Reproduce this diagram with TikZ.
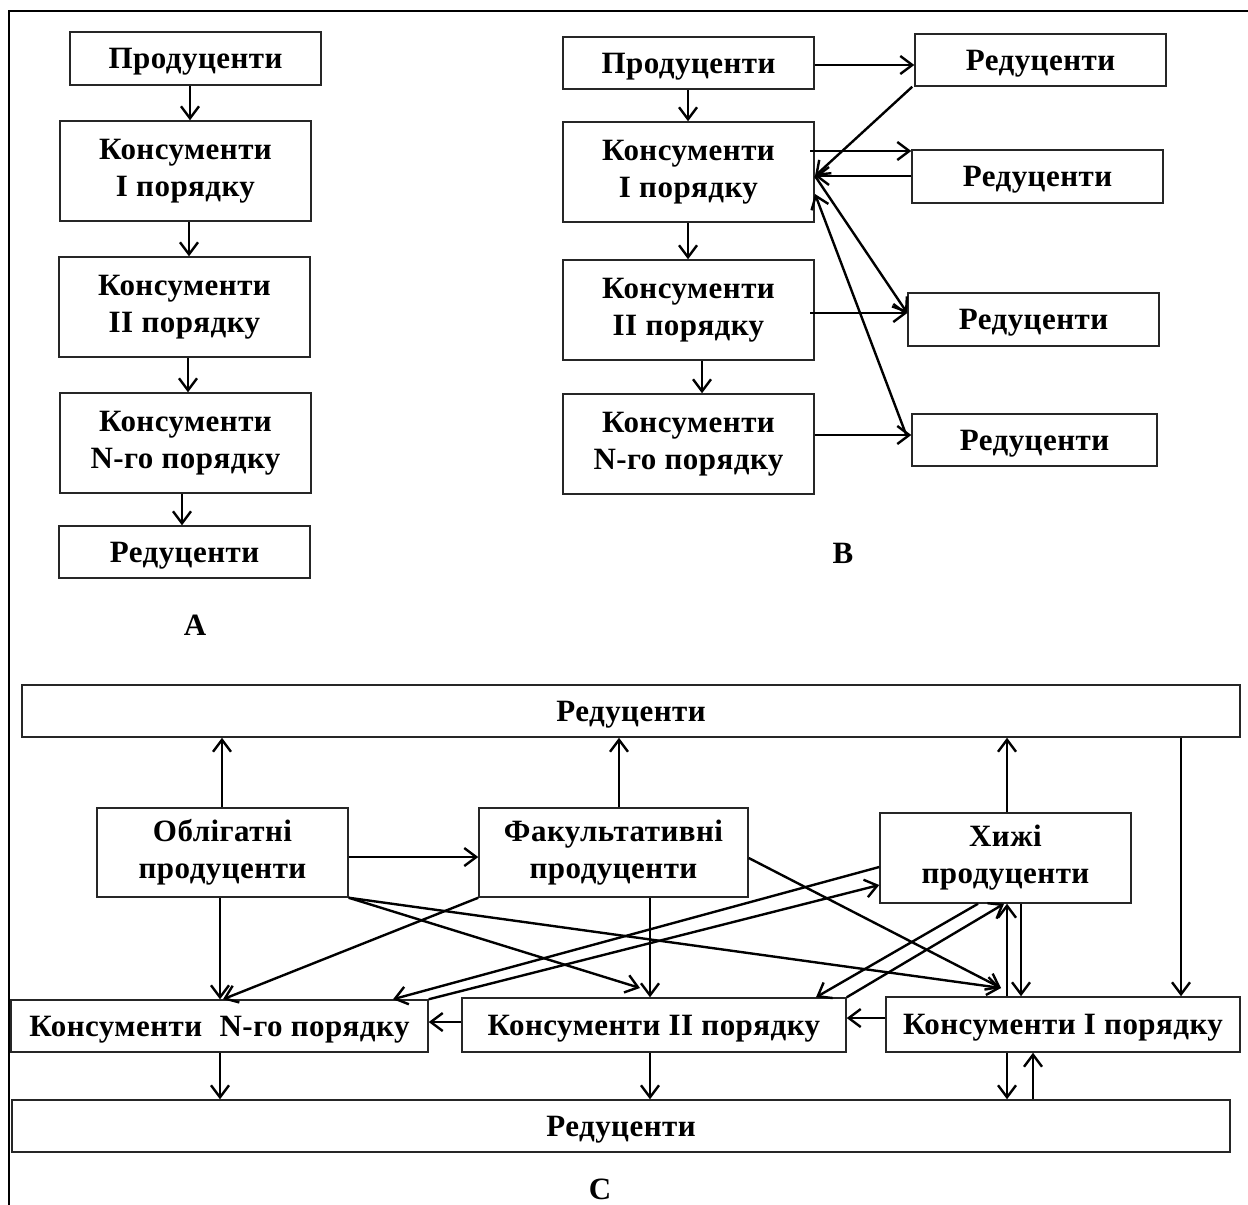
\documentclass[tikz,border=0pt]{standalone}
\usepackage{fontspec}
\setmainfont{Liberation Serif}[LetterSpace=1.5]
\usetikzlibrary{arrows.meta}
\begin{document}
\begin{tikzpicture}[x=1pt,y=-1pt,
  box/.style={draw=black!85, line width=1.5pt, inner sep=0pt, align=center, fill=white,
    font=\bfseries\fontsize{31}{37}\selectfont},
  oneline/.style={text depth=0pt},
  sz/.style 2 args={minimum width=#1pt, minimum height=#2pt},
  arr/.style={line width=2.4pt, -{Straight Barb[length=12pt,width=18pt,line width=2.4pt]}},
  lab/.style={font=\bfseries\fontsize{31}{37}\selectfont, text depth=0pt},
  frame/.style={line width=2.4pt}]
\useasboundingbox (0,0) rectangle (1248,1205);
% outer frame
\coordinate (f0) at (9,1205);
\coordinate (f1) at (9,11);
\coordinate (f2) at (1248,11);
\draw[frame] (f0) -- (f1) -- (f2);

% ---------- A ----------
\node[box, oneline, sz={251}{53}] (aP) at (195.5,58.5) {Продуценти};
\node[box, sz={251}{100}] (aK1) at (185.5,171) {Консументи\\I порядку};
\node[box, sz={251}{100}] (aK2) at (184.5,307) {Консументи\\II порядку};
\node[box, sz={251}{100}] (aKN) at (185.5,443) {Консументи\\N-го порядку};
\node[box, oneline, sz={251}{52}] (aR) at (184.5,552) {Редуценти};
\node[lab] (la) at (195,625) {А};
\coordinate (xa1) at (190,0);
\coordinate (xa2) at (189,0);
\coordinate (xa3) at (188,0);
\coordinate (xa4) at (182,0);
\draw[arr] (aP.south -| xa1) -- (aK1.north -| xa1);
\draw[arr] (aK1.south -| xa2) -- (aK2.north -| xa2);
\draw[arr] (aK2.south -| xa3) -- (aKN.north -| xa3);
\draw[arr] (aKN.south -| xa4) -- (aR.north -| xa4);

% ---------- B ----------
\node[box, oneline, sz={251}{52}] (bP) at (688.5,63) {Продуценти};
\node[box, sz={251}{100}] (bK1) at (688.5,172) {Консументи\\I порядку};
\node[box, sz={251}{100}] (bK2) at (688.5,310) {Консументи\\II порядку};
\node[box, sz={251}{100}] (bKN) at (688.5,444) {Консументи\\N-го порядку};
\node[box, oneline, sz={251}{52}] (bR1) at (1040.5,60) {Редуценти};
\node[box, oneline, sz={251}{53}] (bR2) at (1037.5,176.5) {Редуценти};
\node[box, oneline, sz={251}{53}] (bR3) at (1033.5,319.5) {Редуценти};
\node[box, oneline, sz={245}{52}] (bR4) at (1034.5,440) {Редуценти};
\node[lab] (lb) at (843,553) {В};
\coordinate (yb1) at (0,65);
\coordinate (xb1) at (688,0);
\coordinate (xb2) at (702,0);
\coordinate (yb2) at (0,151);
\coordinate (k1a) at (815,176);
\coordinate (k1b) at (815,194);
\coordinate (yb3) at (0,313);
\coordinate (yb4) at (0,435);
\coordinate (xb3) at (810,0);
\draw[arr] (bP.east |- yb1) -- (bR1.west |- yb1);
\draw[arr] (bP.south -| xb1) -- (bK1.north -| xb1);
\draw[arr] (bK1.south -| xb1) -- (bK2.north -| xb1);
\draw[arr] (bK2.south -| xb2) -- (bKN.north -| xb2);
\draw[arr] ([xshift=-2pt]bR1.south west) -- (k1a);
\draw[arr] (xb3 |- yb2) -- (bR2.west |- yb2);
\draw[arr] (bR2.west |- k1a) -- (k1a);
\draw[arr] (k1a) -- (bR3.west |- yb3);
\draw[arr] (xb3 |- yb3) -- (bR3.west |- yb3);
\draw[arr] ([xshift=-5pt]bR4.west |- yb4) -- (k1b);
\draw[arr] (bKN.east |- yb4) -- (bR4.west |- yb4);

% ---------- C ----------
\node[box, oneline, sz={1218}{52}] (cRt) at (631,711) {Редуценти};
\node[box, sz={251}{89}] (cObl) at (222.5,852.5) {Облігатні\\продуценти};
\node[box, sz={269}{89}] (cFac) at (613.5,852.5) {Факультативні\\продуценти};
\node[box, sz={251}{90}] (cKh) at (1005.5,858) {Хижі\\продуценти};
\node[box, oneline, sz={417}{52}] (cKN) at (219.5,1026) {Консументи\hspace{0.3em} N-го порядку};
\node[box, oneline, sz={384}{54}] (cK2) at (654,1025) {Консументи II порядку};
\node[box, oneline, sz={354}{55}] (cK1) at (1063,1024.5) {Консументи I порядку};
\node[box, oneline, sz={1218}{52}] (cRb) at (621,1126) {Редуценти};
\node[lab] (lc) at (600,1189) {С};

\coordinate (xc1) at (222,0);
\coordinate (xc2) at (619,0);
\coordinate (xc3) at (1007,0);
\coordinate (xc4) at (1181,0);
\coordinate (xc5) at (220,0);
\coordinate (xc6) at (650,0);
\coordinate (xc7) at (1021,0);
\coordinate (xc8) at (1033,0);
\coordinate (xc9) at (223,0);
\coordinate (xc10) at (393,0);
\coordinate (xc11) at (978,0);
\coordinate (xc12) at (816,0);
\coordinate (xc13) at (1004,0);
\coordinate (yc1) at (0,857);
\coordinate (yc2) at (0,867);
\coordinate (yc3) at (0,885);
\coordinate (yc4) at (0,858);
\coordinate (yc5) at (0,1018);
\coordinate (yc6) at (0,1022);
\coordinate (k1in) at (1001,988);
\coordinate (k2in) at (640,988);

\draw[arr] (cObl.north -| xc1) -- (cRt.south -| xc1);
\draw[arr] (cFac.north -| xc2) -- (cRt.south -| xc2);
\draw[arr] (cKh.north -| xc3) -- (cRt.south -| xc3);
\draw[arr] (cRt.south -| xc4) -- (cK1.north -| xc4);
\draw[arr] (cObl.east |- yc1) -- (cFac.west |- yc1);
\draw[arr] (cObl.south -| xc5) -- (cKN.north -| xc5);
\draw[arr] (cFac.south west) -- (cKN.north -| xc9);
\draw[arr] (cKh.west |- yc2) -- (cKN.north -| xc10);
\draw[arr] (cKN.north east) -- (cKh.west |- yc3);
\draw[arr] (cFac.east |- yc4) -- (k1in);
\draw[arr] (cObl.south east) -- (k1in);
\draw[arr] (cObl.south east) -- (k2in);
\draw[arr] (cFac.south -| xc6) -- (cK2.north -| xc6);
\draw[arr] (cKh.south -| xc11) -- (cK2.north -| xc12);
\draw[arr] (cK2.north east) -- (cKh.south -| xc13);
\draw[arr] (cK1.north -| xc3) -- (cKh.south -| xc3);
\draw[arr] (cKh.south -| xc7) -- (cK1.north -| xc7);
\draw[arr] (cK1.west |- yc5) -- (cK2.east |- yc5);
\draw[arr] (cK2.west |- yc6) -- (cKN.east |- yc6);
\draw[arr] (cKN.south -| xc5) -- (cRb.north -| xc5);
\draw[arr] (cK2.south -| xc6) -- (cRb.north -| xc6);
\draw[arr] (cK1.south -| xc3) -- (cRb.north -| xc3);
\draw[arr] (cRb.north -| xc8) -- (cK1.south -| xc8);
\end{tikzpicture}
\end{document}
